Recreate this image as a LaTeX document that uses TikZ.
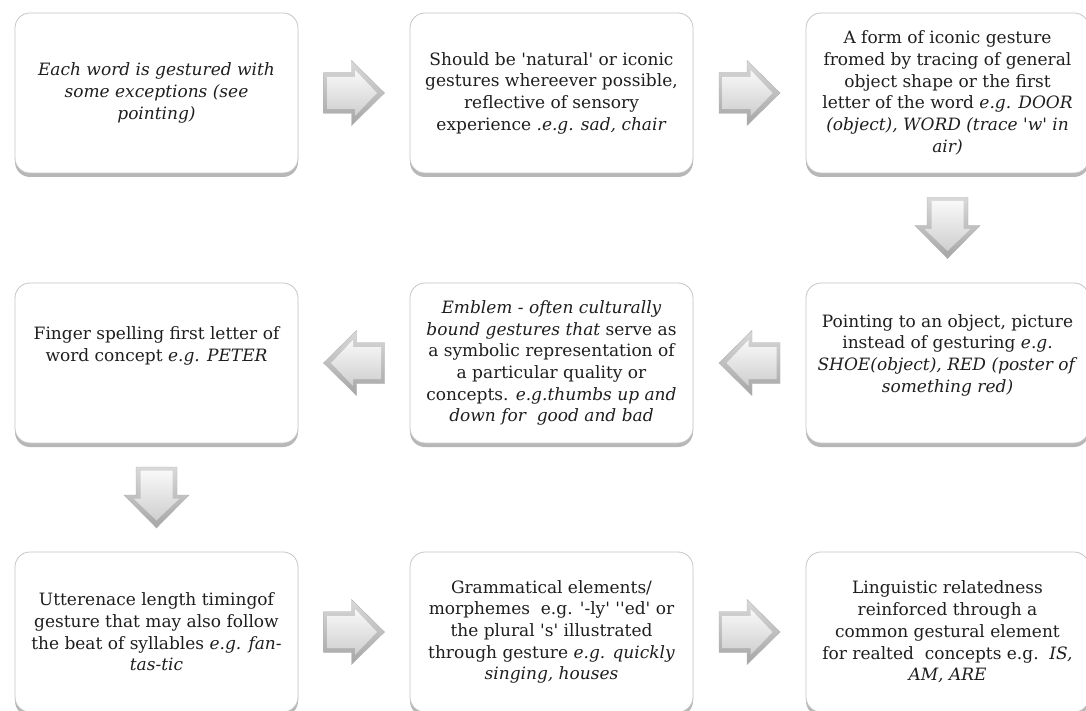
\documentclass[tikz,border=0pt]{standalone}
\usepackage{fontspec}
\setmainfont{DejaVu Serif}[Ligatures=TeXOff]
\usetikzlibrary{shadows,calc}
\definecolor{txt}{HTML}{1E1E1E}
\tikzset{
  box/.style={draw=gray!45, line width=0.8pt, fill=white, rounded corners=15pt,
    minimum width=283pt, minimum height=160pt, inner sep=0pt,
    drop shadow={shadow xshift=0pt, shadow yshift=-4pt, opacity=0.4, fill=black!70}},
  boxtext/.style={align=center, text=txt, inner sep=0pt,
    font=\fontsize{17pt}{21.7pt}\selectfont},
  pics/blockarrow/.style={code={
    \path[draw=gray!60, line width=0.4pt, top color=gray!30, bottom color=gray!70]
      (-30.5,-20.5) -- (-2.5,-20.5) -- (-2.5,-32.5) -- (30.5,0) -- (-2.5,32.5)
      -- (-2.5,20.5) -- (-30.5,20.5) -- cycle;
    \path[top color=gray!5, bottom color=gray!38]
      (-27,-16) -- (1,-16) -- (1,-23) -- (23,0) -- (1,23) -- (1,16) -- (-27,16) -- cycle;
  }}
}
\begin{document}
\begin{tikzpicture}[x=1pt,y=1pt]
\useasboundingbox[fill=white] (0,0) rectangle (1086,-711);
% boxes
\node[box] (b1) at (156.5,-93) {};
\node[box] (b2) at (551.5,-93) {};
\node[box] (b3) at (947.5,-93) {};
\node[box] (b6) at (156.5,-363) {};
\node[box] (b5) at (551.5,-363) {};
\node[box] (b4) at (947.5,-363) {};
\node[box] (b7) at (156.5,-632) {};
\node[box] (b8) at (551.5,-632) {};
\node[box] (b9) at (947.5,-632) {};
% texts
\node[boxtext] (t1) at (b1.center) {\itshape Each word is gestured with\\ \itshape some exceptions (see\\ \itshape pointing)};
\node[boxtext] (t2) at (b2.center) {Should be 'natural' or iconic\\ gestures whereever possible,\\ reflective of sensory\\ experience \textit{.e.g. sad, chair}};
\node[boxtext] (t3) at (b3.center) {A form of iconic gesture\\ fromed by tracing of general\\ object shape or the first\\ letter of the word \textit{e.g. DOOR}\\ \textit{(object), WORD (trace 'w' in}\\ \textit{air)}};
\node[boxtext] (t4) at ($(b4.center)+(0,8)$) {Pointing to an object, picture\\ instead of gesturing \textit{e.g.}\\ \textit{SHOE(object), RED (poster of}\\ \textit{something red)}};
\node[boxtext] (t5) at (b5.center) {\textit{Emblem - often culturally}\\ \textit{bound gestures that} serve as\\ a symbolic representation of\\ a particular quality or\\ concepts. \textit{e.g.thumbs up and}\\ \textit{down for\ \ good and bad}};
\node[boxtext] (t6) at ($(b6.center)+(0,17)$) {Finger spelling first letter of\\ word concept \textit{e.g. PETER}};
\node[boxtext] (t7) at (b7.center) {Utterenace length timingof\\ gesture that may also follow\\ the beat of syllables \textit{e.g. fan-}\\ \textit{tas-tic}};
\node[boxtext] (t8) at (b8.center) {Grammatical elements/\\ morphemes\ \ e.g. '-ly' ''ed' or\\ the plural 's' illustrated\\ through gesture \textit{e.g. quickly}\\ \textit{singing, houses}};
\node[boxtext] (t9) at (b9.center) {Linguistic relatedness\\ reinforced through a\\ common gestural element\\ for realted\ \ concepts e.g.\ \ \textit{IS,}\\ \textit{AM, ARE}};
% arrows
\pic at ($(b1.east)!0.5!(b2.west)$) {blockarrow};
\pic at ($(b2.east)!0.5!(b3.west)$) {blockarrow};
\pic[rotate=-90] at ($(b3.south)!0.5!(b4.north)$) {blockarrow};
\pic[rotate=180] at ($(b4.west)!0.5!(b5.east)$) {blockarrow};
\pic[rotate=180] at ($(b5.west)!0.5!(b6.east)$) {blockarrow};
\pic[rotate=-90] at ($(b6.south)!0.5!(b7.north)$) {blockarrow};
\pic at ($(b7.east)!0.5!(b8.west)$) {blockarrow};
\pic at ($(b8.east)!0.5!(b9.west)$) {blockarrow};
\end{tikzpicture}
\end{document}
